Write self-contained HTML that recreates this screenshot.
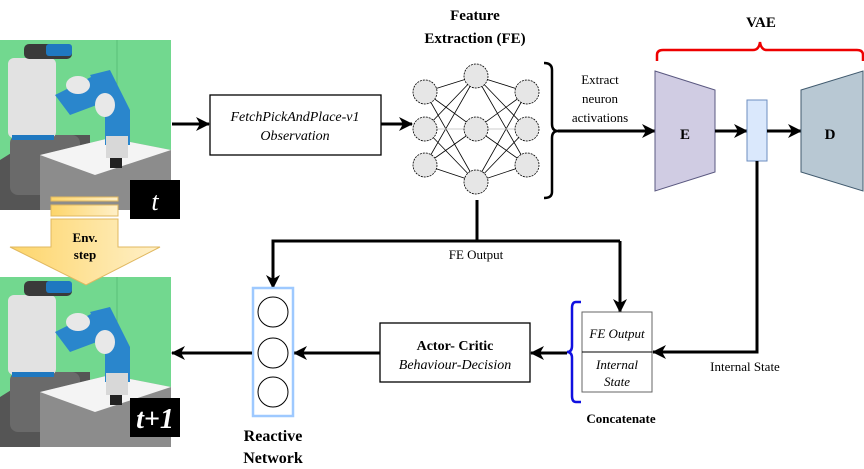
<!DOCTYPE html>
<html><head><meta charset="utf-8"><style>
html,body{margin:0;padding:0;background:#fff;}
svg{display:block;}
text{font-family:"Liberation Serif",serif;}
</style></head><body>
<svg width="864" height="469" viewBox="0 0 864 469" xmlns="http://www.w3.org/2000/svg">
<defs>
<marker id="ah" markerWidth="14" markerHeight="14" refX="13" refY="7" orient="auto" markerUnits="userSpaceOnUse">
<path d="M0,0 L14,7 L0,14 L4,7 z" fill="#000"/></marker>
<linearGradient id="yg" x1="0" x2="1" y1="0" y2="0"><stop offset="0" stop-color="#fdd56a"/><stop offset="1" stop-color="#fff0c8"/></linearGradient>
<g id="robot">
<rect x="0" y="0" width="171" height="170" fill="#72d88f"/>
<line x1="117" y1="0" x2="117" y2="170" stroke="#5bbf78" stroke-width="1"/>
<polygon points="0,120 40,95 90,95 90,170 0,170" fill="#555"/>
<rect x="10" y="95" width="70" height="60" rx="8" fill="#6a6a6a"/>
<polygon points="40,115 110,98 171,110 171,170 40,170" fill="#8c8c8c"/>
<polygon points="40,115 110,98 171,110 95,135" fill="#f4f4f4"/>
<rect x="8" y="18" width="48" height="80" rx="6" fill="#e2e2e2"/>
<rect x="12" y="95" width="42" height="5" fill="#1f78c0"/>
<rect x="24" y="4" width="48" height="15" rx="5" fill="#3a3a3a"/>
<rect x="46" y="4" width="26" height="12" rx="3" fill="#1f78c0"/>
<polygon points="55,55 95,35 110,60 70,75" fill="#2a86cc"/>
<polygon points="90,35 110,30 130,70 115,80" fill="#2a86cc"/>
<rect x="105" y="70" width="25" height="35" fill="#2a86cc"/>
<ellipse cx="78" cy="45" rx="12" ry="9" fill="#e8e8e8"/>
<ellipse cx="105" cy="65" rx="10" ry="12" fill="#e8e8e8"/>
<rect x="106" y="96" width="22" height="22" fill="#d8d8d8"/>
<rect x="110" y="118" width="12" height="10" fill="#222"/>
</g>
</defs>

<use href="#robot" x="0" y="40"/>
<use href="#robot" x="0" y="277"/>
<rect x="130" y="180" width="50" height="39" fill="#000"/>
<text x="155" y="210" fill="#fff" font-size="26" font-style="italic" text-anchor="middle">t</text>
<rect x="130" y="398" width="50" height="39" fill="#000"/>
<text x="155" y="428" fill="#fff" font-size="28" font-style="italic" font-weight="bold" text-anchor="middle">t+1</text>

<!-- env step arrow -->
<rect x="51" y="197" width="67" height="4" fill="url(#yg)" stroke="#e0b860" stroke-width="1"/>
<rect x="51" y="205" width="67" height="11" fill="url(#yg)" stroke="#e0b860" stroke-width="1"/>
<polygon points="51,219 118,219 118,247 160,247 86,285 10,247 51,247" fill="url(#yg)" stroke="#e0b860" stroke-width="1"/>
<text x="85" y="242" font-size="13" font-weight="bold" text-anchor="middle">Env.</text>
<text x="85" y="259" font-size="13" font-weight="bold" text-anchor="middle">step</text>

<!-- observation -->
<line x1="172" y1="124" x2="209" y2="124" stroke="#000" stroke-width="3" marker-end="url(#ah)"/>
<rect x="210" y="95" width="171" height="60" fill="#fff" stroke="#000" stroke-width="1.3"/>
<text x="295" y="121" font-size="14" font-style="italic" text-anchor="middle">FetchPickAndPlace-v1</text>
<text x="295" y="140" font-size="14" font-style="italic" text-anchor="middle">Observation</text>
<line x1="381" y1="124" x2="412" y2="124" stroke="#000" stroke-width="3" marker-end="url(#ah)"/>

<!-- FE network -->
<g stroke="#000" stroke-width="0.8">
<line x1="425" y1="92" x2="476" y2="76"/><line x1="425" y1="92" x2="476" y2="129"/><line x1="425" y1="92" x2="476" y2="182"/>
<line x1="425" y1="129" x2="476" y2="76"/><line x1="425" y1="129" x2="476" y2="182"/>
<line x1="425" y1="165" x2="476" y2="76"/><line x1="425" y1="165" x2="476" y2="129"/><line x1="425" y1="165" x2="476" y2="182"/>
<line x1="527" y1="92" x2="476" y2="76"/><line x1="527" y1="92" x2="476" y2="129"/><line x1="527" y1="92" x2="476" y2="182"/>
<line x1="527" y1="129" x2="476" y2="76"/><line x1="527" y1="129" x2="476" y2="182"/>
<line x1="527" y1="165" x2="476" y2="76"/><line x1="527" y1="165" x2="476" y2="129"/><line x1="527" y1="165" x2="476" y2="182"/>
</g>
<line x1="425" y1="129" x2="527" y2="129" stroke="#ccc" stroke-width="1"/>
<g fill="#e6e6e6" stroke="#000" stroke-width="0.8" stroke-dasharray="2,1">
<circle cx="425" cy="92" r="12"/><circle cx="425" cy="129" r="12"/><circle cx="425" cy="165" r="12"/>
<circle cx="476" cy="76" r="12"/><circle cx="476" cy="129" r="12"/><circle cx="476" cy="182" r="12"/>
<circle cx="527" cy="92" r="12"/><circle cx="527" cy="129" r="12"/><circle cx="527" cy="165" r="12"/>
</g>
<text x="475" y="20" font-size="15" font-weight="bold" text-anchor="middle">Feature</text>
<text x="475" y="43" font-size="15" font-weight="bold" text-anchor="middle">Extraction (FE)</text>
<path d="M544,63 Q552,63 552,70 L552,124 Q552,131 558,131 Q552,131 552,138 L552,192 Q552,198 544,198" fill="none" stroke="#000" stroke-width="2.5"/>
<text x="600" y="84" font-size="13" text-anchor="middle">Extract</text>
<text x="600" y="103" font-size="13" text-anchor="middle">neuron</text>
<text x="600" y="122" font-size="13" text-anchor="middle">activations</text>
<line x1="558" y1="131" x2="655" y2="131" stroke="#000" stroke-width="3" marker-end="url(#ah)"/>

<!-- VAE -->
<path d="M657,61 L657,55 Q657,50 663,50 L753,50 Q759,50 760,42 Q761,50 767,50 L857,50 Q863,50 863,55 L863,61" fill="none" stroke="#e00" stroke-width="2.5"/>
<text x="761" y="27" font-size="15" font-weight="bold" text-anchor="middle">VAE</text>
<polygon points="655,71 715,90 715,172 655,191" fill="#d0cce3" stroke="#5a5880" stroke-width="1"/>
<text x="685" y="139" font-size="15" font-weight="bold" text-anchor="middle">E</text>
<line x1="715" y1="131" x2="747" y2="131" stroke="#000" stroke-width="3" marker-end="url(#ah)"/>
<rect x="747" y="100" width="20" height="61" fill="#dae8fc" stroke="#6c8ebf" stroke-width="1"/>
<line x1="767" y1="131" x2="801" y2="131" stroke="#000" stroke-width="3" marker-end="url(#ah)"/>
<polygon points="801,90 863,71 863,191 801,172" fill="#b8c8d3" stroke="#405a6e" stroke-width="1"/>
<text x="830" y="139" font-size="15" font-weight="bold" text-anchor="middle">D</text>

<!-- FE output lines -->
<polyline points="477,200 477,241" fill="none" stroke="#000" stroke-width="3"/>
<polyline points="620,241 273,241 273,288" fill="none" stroke="#000" stroke-width="3" marker-end="url(#ah)"/>
<polyline points="620,241 620,312" fill="none" stroke="#000" stroke-width="3" marker-end="url(#ah)"/>
<text x="476" y="259" font-size="13" text-anchor="middle">FE Output</text>

<!-- internal state -->
<polyline points="757,161 757,352 653,352" fill="none" stroke="#000" stroke-width="3" marker-end="url(#ah)"/>
<text x="745" y="371" font-size="13" text-anchor="middle">Internal State</text>

<!-- concat box -->
<rect x="582" y="312" width="70" height="80" fill="#fff" stroke="#666" stroke-width="1"/>
<line x1="582" y1="352" x2="652" y2="352" stroke="#000" stroke-width="1"/>
<text x="617" y="338" font-size="13" font-style="italic" text-anchor="middle">FE Output</text>
<text x="617" y="369" font-size="13" font-style="italic" text-anchor="middle">Internal</text>
<text x="617" y="386" font-size="13" font-style="italic" text-anchor="middle">State</text>
<path d="M581,302 L576,302 Q572,302 572,308 L572,346 Q572,352 567,352 Q572,352 572,358 L572,396 Q572,402 576,402 L581,402" fill="none" stroke="#1010e0" stroke-width="2.5"/>
<text x="621" y="423" font-size="13" font-weight="bold" text-anchor="middle">Concatenate</text>
<line x1="567" y1="353" x2="531" y2="353" stroke="#000" stroke-width="3" marker-end="url(#ah)"/>

<!-- actor critic -->
<rect x="380" y="323" width="150" height="59" fill="#fff" stroke="#000" stroke-width="1.3"/>
<text x="455" y="350" font-size="14" font-weight="bold" text-anchor="middle">Actor- Critic</text>
<text x="455" y="369" font-size="14" font-style="italic" text-anchor="middle">Behaviour-Decision</text>
<line x1="380" y1="353" x2="294" y2="353" stroke="#000" stroke-width="3" marker-end="url(#ah)"/>

<!-- reactive network -->
<rect x="253" y="288" width="40" height="128" fill="#fff" stroke="#9ec9ff" stroke-width="2.5"/>
<g fill="#fff" stroke="#000" stroke-width="1"><circle cx="273" cy="312" r="15"/><circle cx="273" cy="353" r="15"/><circle cx="273" cy="392" r="15"/></g>
<line x1="252" y1="353" x2="172" y2="353" stroke="#000" stroke-width="3" marker-end="url(#ah)"/>
<text x="273" y="441" font-size="16" font-weight="bold" text-anchor="middle">Reactive</text>
<text x="273" y="463" font-size="16" font-weight="bold" text-anchor="middle">Network</text>
</svg>
</body></html>
